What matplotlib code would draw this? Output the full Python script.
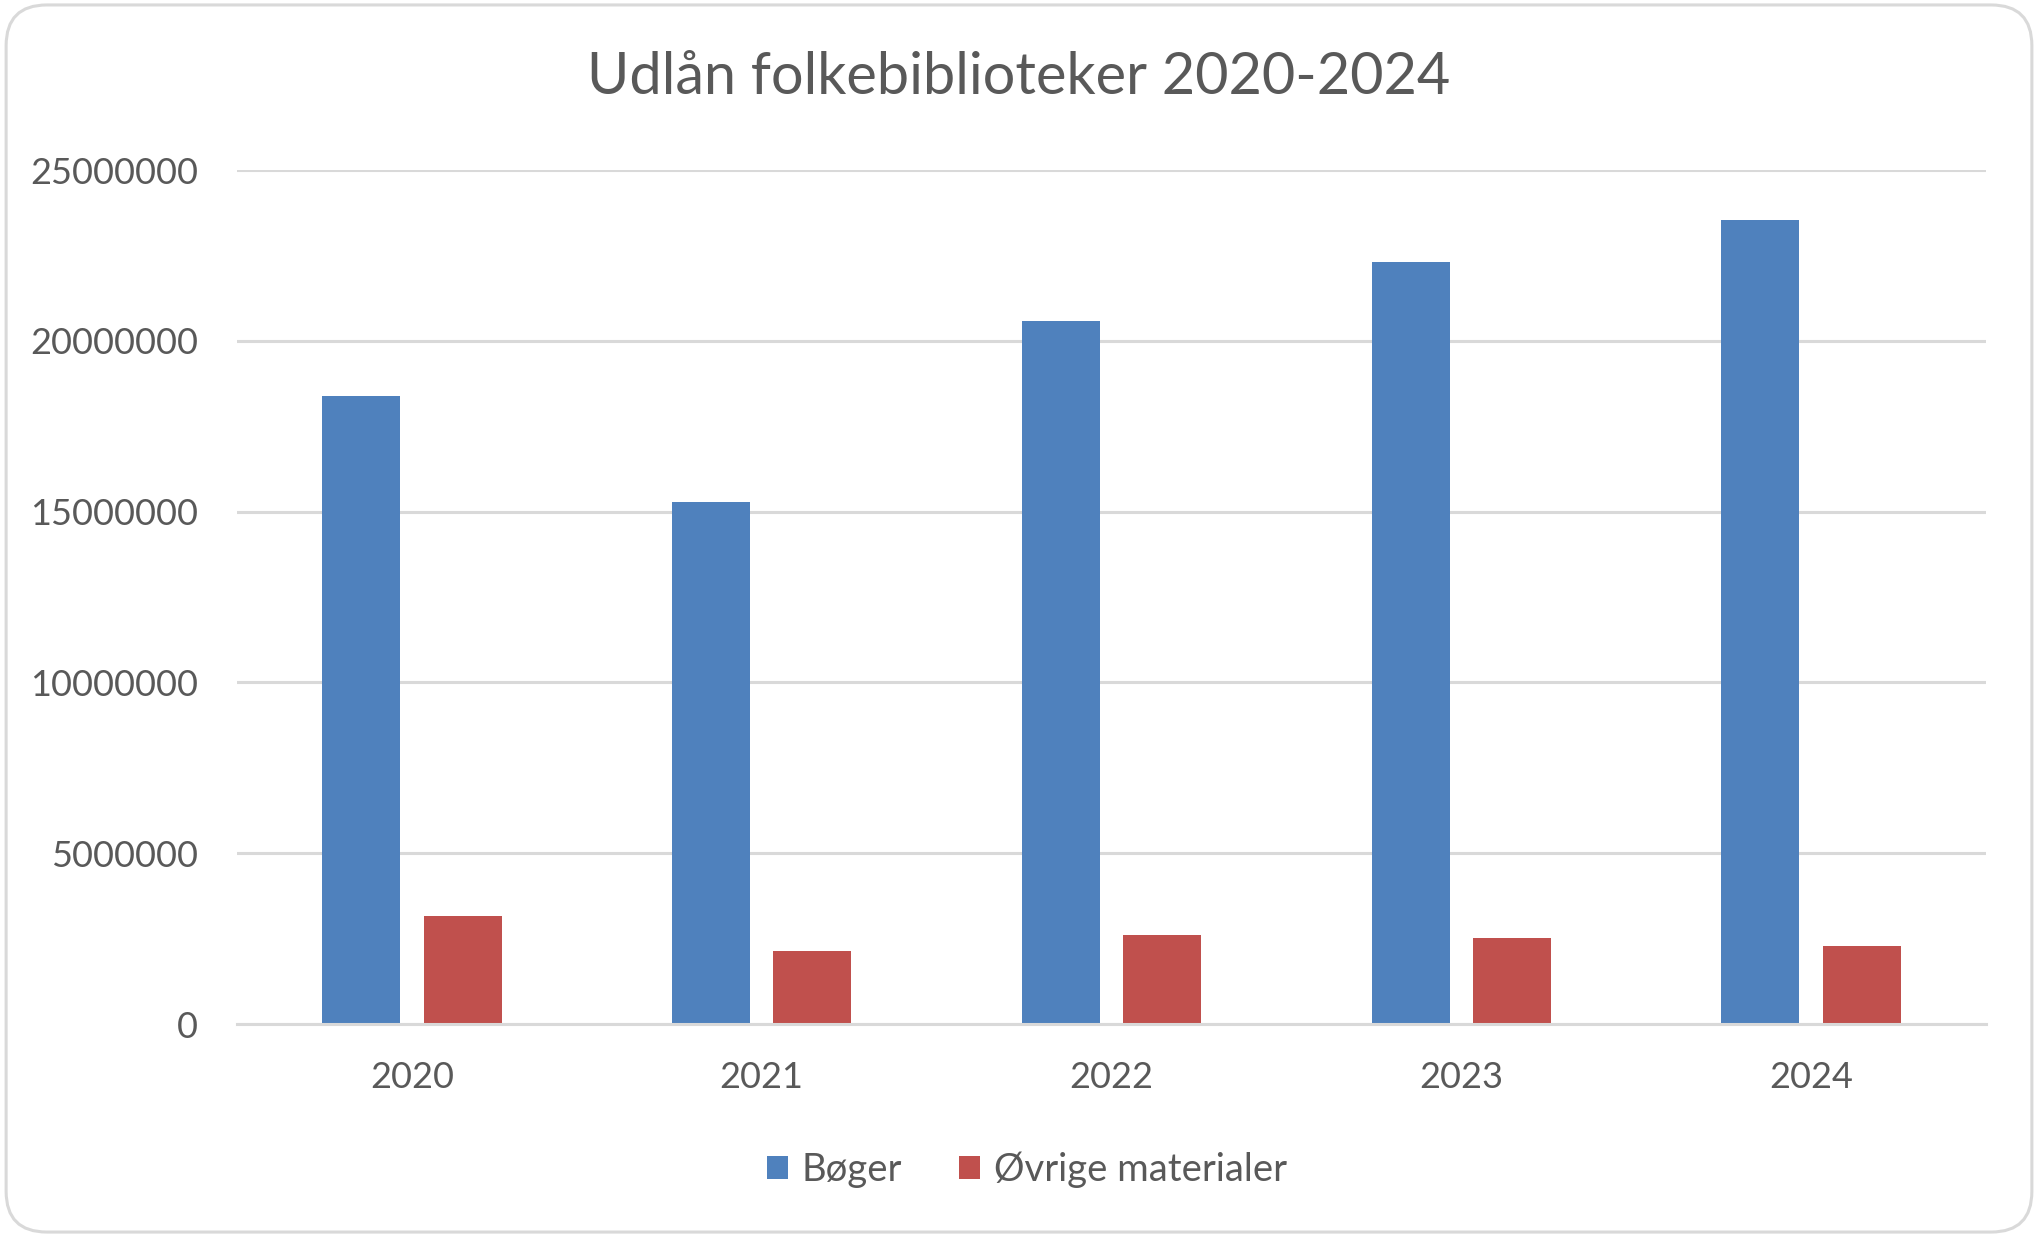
import numpy as np
import matplotlib
matplotlib.use('Agg')
import matplotlib.pyplot as plt
from matplotlib.patches import FancyBboxPatch

# Data
years = ['2020', '2021', '2022', '2023', '2024']
boger = [18370000, 15270000, 20590000, 22320000, 23530000]
ovrige = [3165000, 2140000, 2620000, 2510000, 2290000]
series_names = ['Bøger', 'Øvrige materialer']
y_ticks = [0, 5000000, 10000000, 15000000, 20000000, 25000000]

blue = '#4F81BD'
red = '#C0504D'
text_col = '#595959'
grid_col = '#D9D9D9'

plt.rcParams['font.family'] = ['Lato', 'DejaVu Sans']

fig = plt.figure(figsize=(20.38, 12.37), dpi=100)
ax = fig.add_axes([237 / 2038, 1 - 1024 / 1237, (1986 - 237) / 2038, (1024 - 170) / 1237])

x = np.arange(len(years))
w = 0.223
ax.bar(x - 0.145, boger, width=w, color=blue, label=series_names[0], zorder=3)
ax.bar(x + 0.145, ovrige, width=w, color=red, label=series_names[1], zorder=3)

ax.set_xlim(-0.5, len(years) - 0.5)
ax.set_ylim(0, 25000000)
ax.set_yticks(y_ticks)
ax.set_yticklabels([str(v) for v in y_ticks])
ax.set_xticks(x)
ax.set_xticklabels(years)

ax.grid(axis='y', color=grid_col, linewidth=2.2, zorder=0)
for s in ['top', 'right', 'left']:
    ax.spines[s].set_visible(False)
ax.spines['bottom'].set_color(grid_col)
ax.spines['bottom'].set_linewidth(2.2)
ax.spines['bottom'].set_zorder(4)

ax.tick_params(axis='both', length=0, labelsize=26, labelcolor=text_col)
ax.tick_params(axis='y', pad=28)
ax.tick_params(axis='x', pad=27)

fig.suptitle('Udlån folkebiblioteker 2020-2024', x=0.5, y=1 - 78 / 1237, va='center',
             fontsize=41.5, color=text_col)

leg = fig.legend(loc='center', bbox_to_anchor=(0.504, 1 - 1170 / 1237), ncol=2, frameon=False,
                 fontsize=27.5, handlelength=0.55, handleheight=0.55, handletextpad=0.35,
                 columnspacing=1.5)
for t in leg.get_texts():
    t.set_color(text_col)

# rounded chart border
border = FancyBboxPatch((0.003, 0.004), 0.994, 0.992, boxstyle='round,pad=0,rounding_size=0.02',
                        transform=fig.transFigure, facecolor='none', edgecolor=grid_col,
                        linewidth=2.2, mutation_aspect=2038 / 1237)
fig.patches.append(border)

fig.savefig('out.png', dpi=100)
